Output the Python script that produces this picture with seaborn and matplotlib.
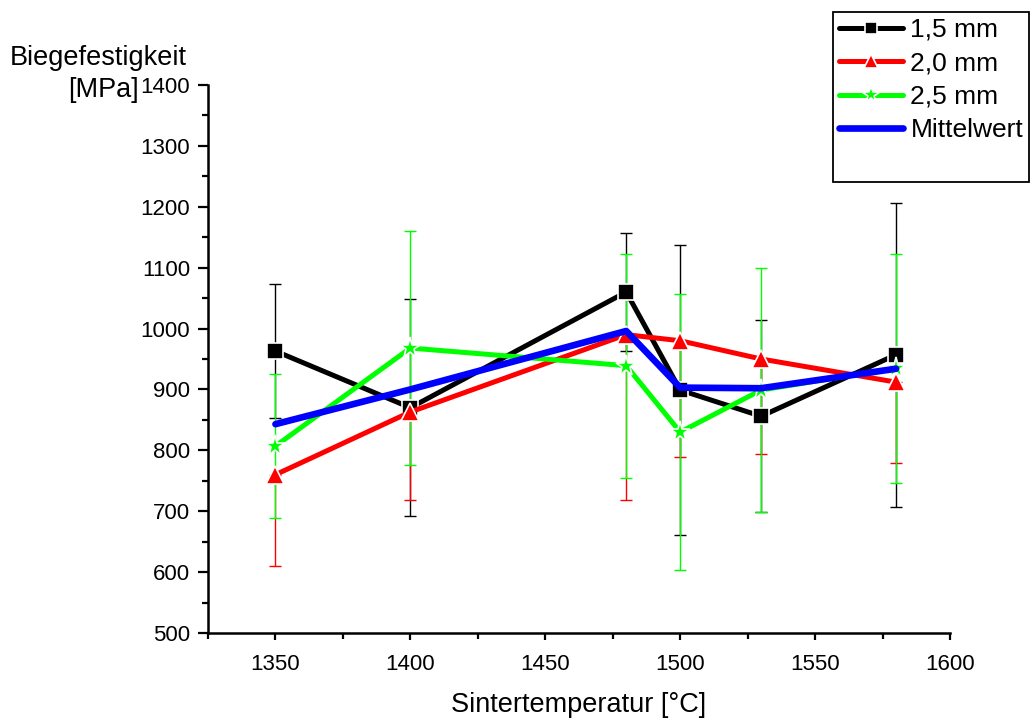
import matplotlib
matplotlib.use("Agg")
import matplotlib.pyplot as plt
from matplotlib.ticker import MultipleLocator
from matplotlib.lines import Line2D
import seaborn as sns
import pandas as pd

# Sintering temperature [°C]
temps = [1350, 1400, 1480, 1500, 1530, 1580]

# Bending strength [MPa] per sample thickness, with standard deviations
s15 = [963, 870, 1060, 899, 856, 957]
s15_err = [110, 178, 97, 238, 158, 250]

s20 = [760, 863, 990, 980, 950, 912]
s20_err_lower = [150, 145, 272, 191, 156, 133]

s25 = [807, 968, 939, 830, 899, 935]
s25_err = [118, 192, 184, 227, 200, 188]

mittelwert = [843, 900, 996, 903, 902, 934]

labels = ["1,5 mm", "2,0 mm", "2,5 mm", "Mittelwert"]

sns.set_style("ticks")
plt.rcParams["font.family"] = ["Liberation Sans", "DejaVu Sans"]
plt.rcParams["text.color"] = "black"
plt.rcParams["axes.labelcolor"] = "black"
plt.rcParams["xtick.color"] = "black"
plt.rcParams["ytick.color"] = "black"

fig = plt.figure(figsize=(10.30, 7.18), dpi=100)
ax = fig.add_axes([208 / 1030, 1 - 633 / 718, (950 - 208) / 1030, (633 - 85) / 718])

series = [
    (s15, "#000000", "s", 11, 9, [s15_err, s15_err]),
    (s20, "#ff0000", "^", 12.5, 10.5, [s20_err_lower, [0] * len(temps)]),
    (s25, "#00ff00", "*", 15.5, 13, [s25_err, s25_err]),
]

handles = []
for (vals, col, mk, ms, ms_leg, err), lab in zip(series, labels):
    ax.errorbar(temps, vals, yerr=err, fmt="none", ecolor=col, elinewidth=1.0,
                capsize=4.5, capthick=1.0, zorder=2)
    df = pd.DataFrame({"T": temps, "v": vals})
    sns.lineplot(data=df, x="T", y="v", ax=ax, color=col, linewidth=3.6,
                 marker=mk, markersize=ms, markerfacecolor=col,
                 markeredgecolor="white", markeredgewidth=1.2, zorder=3,
                 legend=False)
    handles.append(Line2D([], [], color=col, linewidth=3.6, marker=mk,
                          markersize=ms_leg, markerfacecolor=col,
                          markeredgecolor="white", markeredgewidth=1.2))

df_m = pd.DataFrame({"T": temps, "v": mittelwert})
sns.lineplot(data=df_m, x="T", y="v", ax=ax, color="#0000ff", linewidth=4.8,
             zorder=4, legend=False)
handles.append(Line2D([], [], color="#0000ff", linewidth=4.8))

# blank row keeps the empty space at the bottom of the legend box
handles.append(Line2D([], [], color="none"))
leg = fig.legend(handles, labels + [" "], loc="upper right",
                 bbox_to_anchor=(1029 / 1030, 1 - 12 / 718),
                 fontsize=19, frameon=True, fancybox=False, framealpha=1,
                 edgecolor="black", handlelength=2.4, handletextpad=0.3,
                 labelspacing=0.36, borderpad=0.22, borderaxespad=0)
leg.get_frame().set_linewidth(1.3)

ax.set_xlim(1325, 1600)
ax.set_ylim(500, 1400)
ax.xaxis.set_major_locator(MultipleLocator(50))
ax.xaxis.set_minor_locator(MultipleLocator(25))
ax.yaxis.set_major_locator(MultipleLocator(100))
ax.yaxis.set_minor_locator(MultipleLocator(50))

for side in ("top", "right"):
    ax.spines[side].set_visible(False)
for side in ("left", "bottom"):
    ax.spines[side].set_linewidth(1.8)
    ax.spines[side].set_color("black")

ax.tick_params(axis="x", which="major", direction="out", length=5, width=1.6,
               labelsize=16, pad=10, colors="black")
ax.tick_params(axis="x", which="minor", direction="out", length=4, width=1.6)
ax.tick_params(axis="y", which="major", direction="out", length=7, width=1.6,
               labelsize=16, pad=6, colors="black")
ax.tick_params(axis="y", which="minor", direction="out", length=4, width=1.6)

ax.set_xlabel("Sintertemperatur [°C]", fontsize=19.5, labelpad=12,
              color="black")
ax.set_ylabel("")

fig.text(98 / 1030, 1 - 65 / 718, "Biegefestigkeit", ha="center", va="baseline",
         fontsize=19.5, color="black")
fig.text(103 / 1030, 1 - 97 / 718, "[MPa]", ha="center", va="baseline",
         fontsize=19.5, color="black")

fig.savefig("out.png", dpi=100, facecolor="white")
